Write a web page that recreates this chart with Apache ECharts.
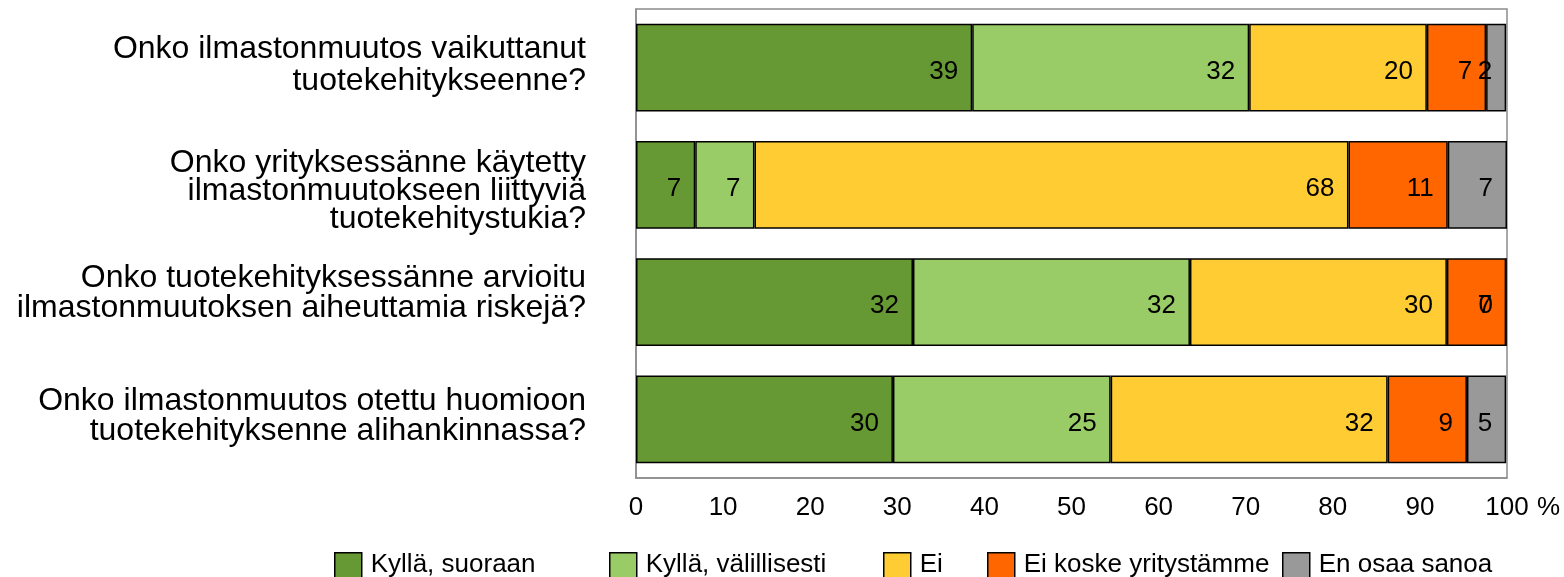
<!DOCTYPE html>
<html>
<head>
<meta charset="utf-8">
<script src="https://cdn.jsdelivr.net/npm/echarts@6/dist/echarts.min.js"></script>
<style>
  html, body { margin: 0; padding: 0; background: #fff; }
  #chart { width: 1564px; height: 577px; }
</style>
</head>
<body>
<div id="chart"></div>
<script>
const questions = [
  'Onko ilmastonmuutos vaikuttanut\ntuotekehitykseenne?',
  'Onko yrityksessänne käytetty\nilmastonmuutokseen liittyviä\ntuotekehitystukia?',
  'Onko tuotekehityksessänne arvioitu\nilmastonmuutoksen aiheuttamia riskejä?',
  'Onko ilmastonmuutos otettu huomioon\ntuotekehityksenne alihankinnassa?',
];
const seriesNames = ['Kyllä, suoraan', 'Kyllä, välillisesti', 'Ei', 'Ei koske yritystämme', 'En osaa sanoa'];
const kyllaSuoraan = [38.6, 6.8, 31.8, 29.5];
const kyllaValillisesti = [31.8, 6.8, 31.8, 25.0];
const ei = [20.4, 68.2, 29.5, 31.8];
const eiKoske = [6.8, 11.4, 6.8, 9.1];
const enOsaa = [2.3, 6.8, 0, 4.5];
const xTicks = [0, 10, 20, 30, 40, 50, 60, 70, 80, 90, 100];

const colors = ['#669933', '#99cc66', '#ffcc33', '#ff6600', '#999999'];
const values = [kyllaSuoraan, kyllaValillisesti, ei, eiKoske, enOsaa];
const legendLeft = [329, 604, 878, 982, 1277];
const FONT = 'Liberation Sans, Arial, sans-serif';

// wrapped question labels sit slightly off the bar centre in the original (lift > 0 = up)
const qStyle = (lineHeight, lift) => ({
  fontSize: 32, lineHeight, color: '#000', fontFamily: FONT, align: 'right',
  padding: lift >= 0 ? [0, 0, lift * 2, 0] : [-lift * 2, 0, 0, 0],
});
const qRich = { q0: qStyle(32, 2), q1: qStyle(28, -6), q2: qStyle(30, 9), q3: qStyle(30, 3) };

const chart = echarts.init(document.getElementById('chart'), null, { renderer: 'canvas' });

chart.setOption({
  backgroundColor: '#fff',
  animation: false,
  textStyle: { fontFamily: FONT, color: '#000' },
  legend: seriesNames.map((name, i) => ({
    data: [name],
    left: legendLeft[i],
    top: 547,
    itemWidth: 27,
    itemHeight: 25,
    itemGap: 10,
    icon: 'rect',
    itemStyle: { borderColor: '#000', borderWidth: 1.5 },
    textStyle: { fontSize: 26, color: '#000', fontFamily: FONT, padding: [0, 0, 0, 4] },
  })),
  grid: {
    left: 636, right: 57, top: 9, bottom: 99,
    show: true, borderColor: '#8c8c8c', borderWidth: 1.5,
  },
  xAxis: {
    type: 'value', min: 0, max: 100, interval: 10,
    splitLine: { show: false },
    axisTick: { show: false },
    axisLine: { show: true, lineStyle: { color: '#8c8c8c', width: 1.5 } },
    axisLabel: { fontSize: 26, color: '#000', margin: 17, fontFamily: FONT,
      formatter: v => xTicks.includes(v) ? String(v) : '' },
    name: '%', nameLocation: 'end', nameGap: 30,
    nameTextStyle: { fontSize: 26, color: '#000', fontFamily: FONT, verticalAlign: 'top', padding: [17, 0, 0, 0] },
  },
  yAxis: {
    type: 'category', inverse: true, data: questions,
    axisTick: { show: false },
    axisLine: { show: true, lineStyle: { color: '#8c8c8c', width: 1.5 } },
    axisLabel: {
      margin: 50, align: 'right',
      formatter: (v, i) => '{q' + i + '|' + v + '}',
      rich: qRich,
    },
  },
  series: seriesNames.map((name, i) => ({
    name,
    type: 'bar',
    stack: 'total',
    barWidth: '75%',
    data: values[i],
    itemStyle: { color: colors[i], borderColor: '#000', borderWidth: 1.5 },
    label: {
      show: true, position: 'insideRight', distance: 14, offset: [0, 4],
      fontSize: 26, color: '#000', fontFamily: FONT,
      formatter: p => String(Math.round(p.value)),
    },
  })),
});
</script>
</body>
</html>
